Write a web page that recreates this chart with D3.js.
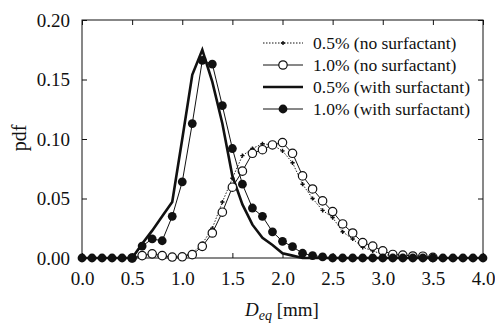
<!DOCTYPE html>
<html>
<head>
<meta charset="utf-8">
<script src="https://cdn.jsdelivr.net/npm/d3@7"></script>
<style>
  body { margin: 0; background: #fff; }
  svg { display: block; }
  text { font-family: "Liberation Serif", "DejaVu Serif", serif; fill: #111; }
</style>
</head>
<body>
<svg id="chart" width="495" height="327"></svg>
<script>
// diameter values (mm), step 0.1 from 0.0 to 4.0
var dValues = d3.range(0, 41).map(function(i) { return +(i / 10).toFixed(1); });

// pdf, one value per diameter
var noSurf05 = [0, 0, 0, 0, 0, 0, 0.001, 0.002, 0.001, 0.001, 0.002, 0.004, 0.012, 0.025, 0.047, 0.067,
    0.086, 0.092, 0.096, 0.095, 0.090, 0.080, 0.062, 0.050, 0.040, 0.034, 0.022, 0.016, 0.009, 0.006,
    0.003, 0.002, 0.001, 0, 0, 0, 0, 0, 0, 0, 0];
var noSurf10 = [0, 0, 0, 0, 0, 0, 0.002, 0.0035, 0.002, 0.0008, 0.001, 0.0028, 0.0098, 0.021, 0.0385, 0.0595,
    0.073, 0.088, 0.091, 0.095, 0.097, 0.088, 0.069, 0.058, 0.048, 0.039, 0.0286, 0.021, 0.013, 0.010,
    0.006, 0.003, 0.0025, 0.0017, 0.0015, 0.0005, 0, 0, 0, 0, 0];
var withSurf05 = [0, 0, 0, 0, 0, 0, 0.012, 0.023, 0.035, 0.047, 0.100, 0.154, 0.175, 0.148, 0.113, 0.069,
    0.045, 0.028, 0.017, 0.011, 0.004, 0.002, 0, 0, 0, 0, 0, 0, 0, 0,
    0, 0, 0, 0, 0, 0, 0, 0, 0, 0, 0];
var withSurf10 = [0, 0, 0, 0, 0, 0, 0.010, 0.016, 0.0145, 0.035, 0.064, 0.113, 0.166, 0.163, 0.128, 0.092,
    0.062, 0.042, 0.035, 0.022, 0.014, 0.0095, 0.004, 0.002, 0.001, 0, 0, 0, 0, 0,
    0, 0, 0, 0, 0, 0, 0, 0, 0, 0, 0];

var seriesNames = ["0.5% (no surfactant)", "1.0% (no surfactant)", "0.5% (with surfactant)", "1.0% (with surfactant)"];
var xTicks = [0, 0.5, 1, 1.5, 2, 2.5, 3, 3.5, 4];
var yTicks = [0, 0.05, 0.10, 0.15, 0.20];

var svg = d3.select("#chart");
var plotL = 82, plotR = 483, plotT = 20, plotB = 258;

var x = d3.scaleLinear().domain([0, 4]).range([plotL, plotR]);
var y = d3.scaleLinear().domain([0, 0.2]).range([plotB, plotT]);

// frame
svg.append("rect")
    .attr("x", plotL).attr("y", plotT)
    .attr("width", plotR - plotL).attr("height", plotB - plotT)
    .attr("fill", "none").attr("stroke", "#111").attr("stroke-width", 1);

// axes with inward ticks
svg.append("g").attr("transform", "translate(0," + plotB + ")")
    .call(d3.axisBottom(x).tickValues(xTicks).tickSizeInner(-5).tickSizeOuter(0).tickPadding(14).tickFormat(d3.format(".1f")))
    .call(function(g) { g.select(".domain").remove(); });
svg.append("g").attr("transform", "translate(0," + plotT + ")")
    .call(d3.axisTop(x).tickValues(xTicks).tickSizeInner(-5).tickSizeOuter(0).tickFormat(""))
    .call(function(g) { g.select(".domain").remove(); });
svg.append("g").attr("transform", "translate(" + plotL + ",0)")
    .call(d3.axisLeft(y).tickValues(yTicks).tickSizeInner(-5).tickSizeOuter(0).tickPadding(12).tickFormat(d3.format(".2f")))
    .call(function(g) { g.select(".domain").remove(); });
svg.append("g").attr("transform", "translate(" + plotR + ",0)")
    .call(d3.axisRight(y).tickValues(yTicks).tickSizeInner(-5).tickSizeOuter(0).tickFormat(""))
    .call(function(g) { g.select(".domain").remove(); });

svg.selectAll(".tick line").attr("stroke", "#111");
svg.selectAll(".tick text")
    .attr("font-family", "Liberation Serif, serif")
    .attr("font-size", 19)
    .attr("fill", "#111");

// axis titles
svg.append("text")
    .attr("transform", "translate(26,138) rotate(-90)")
    .attr("text-anchor", "middle")
    .attr("font-size", 20)
    .text("pdf");

var xt = svg.append("text")
    .attr("x", 282).attr("y", 316)
    .attr("text-anchor", "middle")
    .attr("font-size", 19);
xt.append("tspan").attr("font-style", "italic").text("D");
xt.append("tspan").attr("font-style", "italic").attr("font-size", 14).attr("dy", 4).text("eq");
xt.append("tspan").attr("dy", -4).text(" [mm]");

var line = d3.line()
    .x(function(d) { return x(d[0]); })
    .y(function(d) { return y(d[1]); });

function pairs(vals) {
    return dValues.map(function(d, i) { return [d, vals[i]]; });
}

var plot = svg.append("g");

// 0.5% no surfactant: dotted with small crosses
plot.append("path").datum(pairs(noSurf05))
    .attr("d", line).attr("fill", "none")
    .attr("stroke", "#222").attr("stroke-width", 1).attr("stroke-dasharray", "1.5,1.5");
plot.selectAll(".cross").data(pairs(noSurf05).filter(function(d) { return d[1] > 0; }))
    .enter().append("path")
    .attr("transform", function(d) { return "translate(" + x(d[0]) + "," + y(d[1]) + ")"; })
    .attr("d", d3.symbol().type(d3.symbolCross).size(10))
    .attr("fill", "#111");

// 1.0% no surfactant: thin line, open circles
plot.append("path").datum(pairs(noSurf10))
    .attr("d", line).attr("fill", "none")
    .attr("stroke", "#111").attr("stroke-width", 1);

// 0.5% with surfactant: thick solid line
plot.append("path").datum(pairs(withSurf05))
    .attr("d", line).attr("fill", "none")
    .attr("stroke", "#111").attr("stroke-width", 2.6).attr("stroke-linejoin", "miter");

plot.selectAll(".open").data(pairs(noSurf10).slice(5, 36))
    .enter().append("circle")
    .attr("cx", function(d) { return x(d[0]); })
    .attr("cy", function(d) { return y(d[1]); })
    .attr("r", 4.2)
    .attr("fill", "#fff").attr("stroke", "#111").attr("stroke-width", 1.2);

// 1.0% with surfactant: thin line, filled dots
plot.append("path").datum(pairs(withSurf10))
    .attr("d", line).attr("fill", "none")
    .attr("stroke", "#111").attr("stroke-width", 1);
plot.selectAll(".filled").data(pairs(withSurf10))
    .enter().append("circle")
    .attr("cx", function(d) { return x(d[0]); })
    .attr("cy", function(d) { return y(d[1]); })
    .attr("r", 4.4)
    .attr("fill", "#111");

// legend
var legend = svg.append("g");
var rowY = [43, 65, 87, 109];
var lx0 = 263, lx1 = 303, lmid = 283;
seriesNames.forEach(function(name, i) {
    var g = legend.append("g");
    var ln = g.append("line").attr("x1", lx0).attr("x2", lx1).attr("y1", rowY[i]).attr("y2", rowY[i])
        .attr("stroke", "#111").attr("stroke-width", i === 2 ? 2.6 : 1);
    if (i === 0) {
        ln.attr("stroke-dasharray", "1.5,1.5");
        g.append("path").attr("transform", "translate(" + lmid + "," + rowY[i] + ")")
            .attr("d", d3.symbol().type(d3.symbolCross).size(10)).attr("fill", "#111");
    }
    if (i === 1) {
        g.append("circle").attr("cx", lmid).attr("cy", rowY[i]).attr("r", 4.2)
            .attr("fill", "#fff").attr("stroke", "#111").attr("stroke-width", 1.2);
    }
    if (i === 3) {
        g.append("circle").attr("cx", lmid).attr("cy", rowY[i]).attr("r", 4.4).attr("fill", "#111");
    }
    g.append("text").attr("x", 313).attr("y", rowY[i] + 5.5)
        .attr("font-size", 17.5)
        .text(name);
});
</script>
</body>
</html>
